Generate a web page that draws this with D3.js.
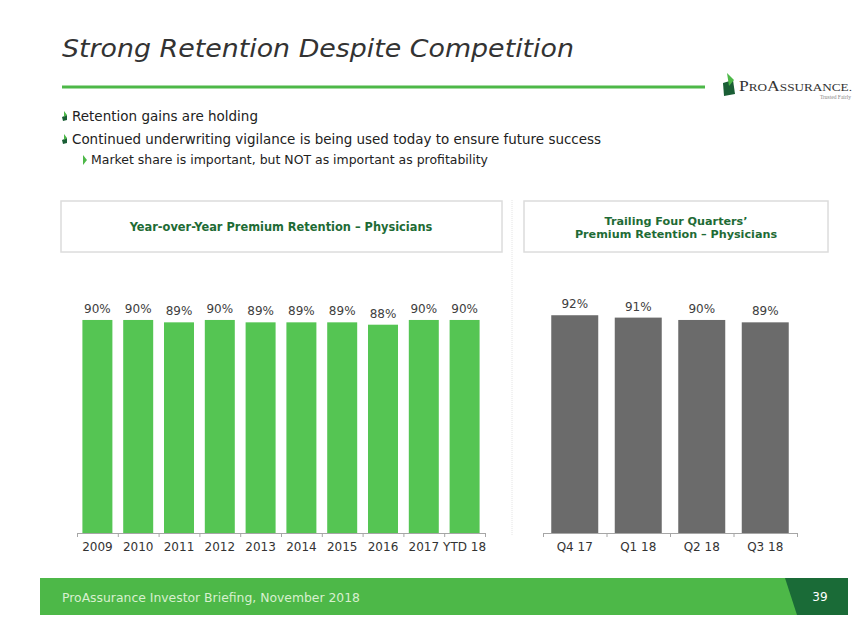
<!DOCTYPE html>
<html><head><meta charset="utf-8">
<script src="https://cdn.jsdelivr.net/npm/d3@7"></script>
<style>html,body{margin:0;padding:0;background:#fff;}svg{display:block;}</style>
</head><body>
<script>
const years = ["2009","2010","2011","2012","2013","2014","2015","2016","2017","YTD 18"];
const yoyValues = [90,90,89,90,89,89,89,88,90,90];
const quarters = ["Q4 17","Q1 18","Q2 18","Q3 18"];
const ttmValues = [92,91,90,89];
const leftTitle = "Year-over-Year Premium Retention \u2013 Physicians";
const rightTitle = ["Trailing Four Quarters\u2019","Premium Retention \u2013 Physicians"];

const W=867,H=635;
const svg=d3.select("body").append("svg").attr("width",W).attr("height",H);
const FONT="DejaVu Sans, Verdana, sans-serif";

// Title
svg.append("text").attr("x",62).attr("y",57).attr("font-family",FONT).attr("font-style","italic")
  .attr("font-size",25).attr("fill","#333").attr("textLength",512).attr("lengthAdjust","spacingAndGlyphs")
  .text("Strong Retention Despite Competition");
svg.append("line").attr("x1",62).attr("x2",705).attr("y1",87).attr("y2",87).attr("stroke","#4db848").attr("stroke-width",3);

// Logo
svg.append("path").attr("d","M723,83 L733,80 L735,94 L724,96 Z").attr("fill","#1a5e35");
svg.append("path").attr("d","M727,73 L734,80 L729,86 Z").attr("fill","#4db848");
const logo=svg.append("text").attr("x",739).attr("y",91).attr("font-family","Liberation Serif, serif")
  .attr("fill","#333").attr("textLength",113).attr("lengthAdjust","spacingAndGlyphs");
logo.append("tspan").attr("font-size",14).text("P");
logo.append("tspan").attr("font-size",10.5).text("RO");
logo.append("tspan").attr("font-size",14).text("A");
logo.append("tspan").attr("font-size",10.5).text("SSURANCE.");
svg.append("text").attr("x",851).attr("y",99).attr("text-anchor","end").attr("font-family","Liberation Serif, serif")
  .attr("font-size",5.5).attr("fill","#888").text("Trusted Fairly");

// Bullets
function leaf(x,y){
  svg.append("path").attr("d",`M${x},${y+1} L${x+5},${y-1} L${x+5},${y+4} L${x+1},${y+5} Z`).attr("fill","#1a5e35");
  svg.append("path").attr("d",`M${x+2},${y-5} L${x+5},${y-1} L${x+2},${y+1} Z`).attr("fill","#4db848");
}
leaf(62,116); leaf(62,139);
svg.append("text").attr("x",72).attr("y",121).attr("font-family",FONT).attr("font-size",14).attr("fill","#222")
  .attr("textLength",186).attr("lengthAdjust","spacingAndGlyphs").text("Retention gains are holding");
svg.append("text").attr("x",72).attr("y",144).attr("font-family",FONT).attr("font-size",14).attr("fill","#222")
  .attr("textLength",529).attr("lengthAdjust","spacingAndGlyphs").text("Continued underwriting vigilance is being used today to ensure future success");
svg.append("path").attr("d","M83,155 L87,160 L83,165 Z").attr("fill","#4db848");
svg.append("text").attr("x",91).attr("y",164).attr("font-family",FONT).attr("font-size",12).attr("fill","#222")
  .attr("textLength",397).attr("lengthAdjust","spacingAndGlyphs").text("Market share is important, but NOT as important as profitability");

// Separator
svg.append("line").attr("x1",512).attr("x2",512).attr("y1",200).attr("y2",536).attr("stroke","#e4e4e4").attr("stroke-dasharray","1,1");

// Title boxes
svg.append("rect").attr("x",61).attr("y",201).attr("width",441).attr("height",51).attr("fill","#fff").attr("stroke","#dcdcdc").attr("stroke-width",1.5);
svg.append("text").attr("x",281).attr("y",231).attr("text-anchor","middle").attr("font-family",FONT).attr("font-weight","bold")
  .attr("font-size",11.4).attr("fill","#1e6b35").text(leftTitle);
svg.append("rect").attr("x",524).attr("y",201).attr("width",304).attr("height",51).attr("fill","#fff").attr("stroke","#dcdcdc").attr("stroke-width",1.5);
rightTitle.forEach((t,i)=>svg.append("text").attr("x",676).attr("y",224.5+i*13.5).attr("text-anchor","middle").attr("font-family",FONT)
  .attr("font-weight","bold").attr("font-size",11.2).attr("fill","#1e6b35").text(t));

const baseY=533;
const y=d3.scaleLinear().domain([0,100]).range([baseY, baseY-236.7]);

function barChart(cats, vals, x0, x1, color, pad){
  const x=d3.scaleBand().domain(cats).range([x0,x1]).paddingInner(pad).paddingOuter(pad/2);
  const g=svg.append("g");
  g.selectAll("rect.bar").data(vals).join("rect").attr("class","bar")
    .attr("x",(d,i)=>x(cats[i])).attr("width",x.bandwidth())
    .attr("y",d=>y(d)).attr("height",d=>y(0)-y(d)).attr("fill",color);
  g.selectAll("text.val").data(vals).join("text").attr("class","val")
    .attr("x",(d,i)=>x(cats[i])+x.bandwidth()/2).attr("y",d=>y(d)-7)
    .attr("text-anchor","middle").attr("font-family",FONT).attr("font-size",12).attr("fill","#404040")
    .text(d=>d+"%");
  const t=d3.scaleLinear().domain([0,cats.length]).range([x0,x1]);
  const ax=g.append("g").attr("transform",`translate(0,${baseY})`)
    .call(d3.axisBottom(t).tickValues(d3.range(cats.length+1)).tickSize(4).tickFormat(""));
  ax.selectAll("path,line").attr("stroke","#a6a6a6");
  const lab=g.append("g").attr("transform",`translate(0,${baseY})`)
    .call(d3.axisBottom(x).tickSize(0).tickPadding(9));
  lab.select(".domain").remove();
  lab.selectAll("text").attr("font-family",FONT).attr("font-size",12).attr("fill","#333");
}
barChart(years,yoyValues,77,485,"#55c553",0.265);
barChart(quarters,ttmValues,543,797,"#6b6b6b",0.26);

// Footer
svg.append("rect").attr("x",40).attr("y",578).attr("width",808).attr("height",37).attr("fill","#4db848");
svg.append("path").attr("d","M785,578 L848,578 L848,615 L797,615 Z").attr("fill","#1a6b37");
svg.append("text").attr("x",62).attr("y",602).attr("font-family",FONT).attr("font-size",13).attr("fill","#d8f0cf")
  .attr("textLength",298).attr("lengthAdjust","spacingAndGlyphs").text("ProAssurance Investor Briefing, November 2018");
svg.append("text").attr("x",820).attr("y",601).attr("text-anchor","middle").attr("font-family",FONT).attr("font-size",12).attr("fill","#fff").text("39");
</script>
</body></html>
